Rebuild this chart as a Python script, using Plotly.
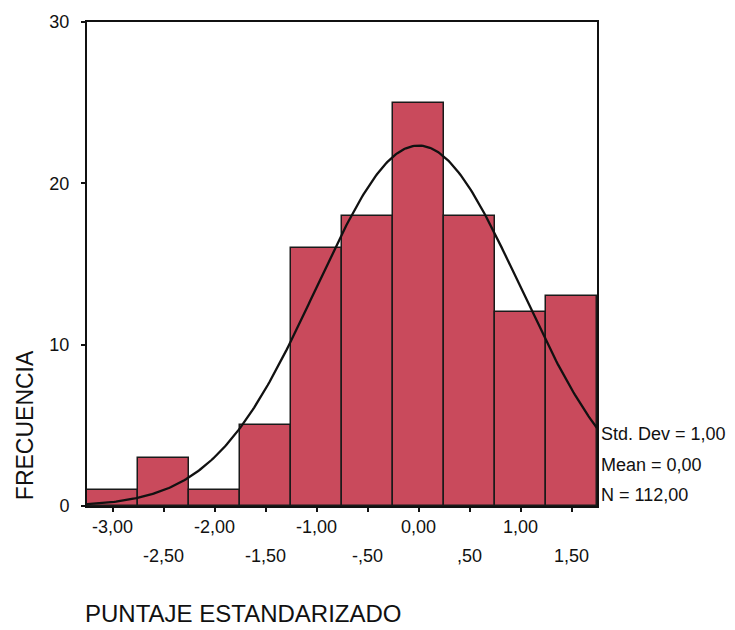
import numpy as np
import plotly.graph_objects as go

# Data
bin_centers = [-3.0, -2.5, -2.0, -1.5, -1.0, -0.5, 0.0, 0.5, 1.0, 1.5]
counts = [1, 3, 1, 5, 16, 18, 25, 18, 12, 13]
upper_ticks = [-3.0, -2.0, -1.0, 0.0, 1.0]
upper_labels = ["-3,00", "-2,00", "-1,00", "0,00", "1,00"]
lower_ticks = [-2.5, -1.5, -0.5, 0.5, 1.5]
lower_labels = ["-2,50", "-1,50", "-,50", ",50", "1,50"]
y_ticks = [0, 10, 20, 30]
stats_lines = ["Std. Dev = 1,00", "Mean = 0,00", "N = 112,00"]
stat_sd, stat_mean, stat_n = 1.0, 0.0, 112
bin_width = 0.5

FONT = "Liberation Sans, Arial, sans-serif"
BAR = "#C94A5C"

# Normal curve fitted with the displayed statistics
xc = np.linspace(-3.25, 1.75, 300)
yc = stat_n * bin_width * np.exp(-0.5 * ((xc - stat_mean) / stat_sd) ** 2) / (stat_sd * np.sqrt(2 * np.pi))

fig = go.Figure()
fig.add_trace(go.Bar(
    x=bin_centers, y=counts, width=bin_width,
    marker=dict(color=BAR, line=dict(color="#1a1a1a", width=1.5)),
    hoverinfo="x+y", showlegend=False,
))
fig.add_trace(go.Scatter(
    x=xc, y=yc, mode="lines",
    line=dict(color="#111111", width=2.3), showlegend=False, hoverinfo="skip",
))

annotations = []
for v, t in zip(upper_ticks, upper_labels):
    annotations.append(dict(x=v, y=0, xref="x", yref="paper", text=t, showarrow=False,
                            xanchor="center", yanchor="middle", yshift=-21,
                            font=dict(family=FONT, size=18, color="#111")))
for v, t in zip(lower_ticks, lower_labels):
    annotations.append(dict(x=v, y=0, xref="x", yref="paper", text=t, showarrow=False,
                            xanchor="center", yanchor="middle", yshift=-50,
                            font=dict(family=FONT, size=18, color="#111")))
for i, t in enumerate(stats_lines):
    annotations.append(dict(x=1, y=0, xref="paper", yref="paper", text=t, showarrow=False,
                            xanchor="left", yanchor="middle", xshift=2,
                            yshift=72 - 30.5 * i,
                            font=dict(family=FONT, size=18, color="#111")))
annotations.append(dict(x=0, y=0, xref="paper", yref="paper", text="PUNTAJE ESTANDARIZADO",
                        showarrow=False, xanchor="left", yanchor="middle", xshift=-4, yshift=-107,
                        font=dict(family=FONT, size=24, color="#111")))
annotations.append(dict(x=0, y=0.167, xref="paper", yref="paper", text="FRECUENCIA",
                        showarrow=False, textangle=-90, xanchor="center", yanchor="middle",
                        xshift=-62, font=dict(family=FONT, size=23, color="#111")))

fig.update_layout(
    width=735, height=630,
    margin=dict(l=87, r=138, t=15, b=124),
    paper_bgcolor="white", plot_bgcolor="white",
    bargap=0,
    annotations=annotations,
    xaxis=dict(range=[-3.25, 1.75], tickvals=bin_centers, showticklabels=False,
               ticks="outside", ticklen=4, tickwidth=2, tickcolor="#111",
               showline=True, linecolor="#111", linewidth=2, mirror=True,
               showgrid=False, zeroline=False),
    yaxis=dict(range=[0, 30], tickvals=y_ticks, ticks="outside", ticklen=4, tickwidth=2,
               tickcolor="#111", ticklabelstandoff=8,
               tickfont=dict(family=FONT, size=18, color="#111"),
               showline=True, linecolor="#111", linewidth=2, mirror=True,
               showgrid=False, zeroline=False),
)

fig.write_html("out.html", config={"displayModeBar": False},
               post_script="document.body.style.margin='0';document.body.style.overflow='hidden';")
